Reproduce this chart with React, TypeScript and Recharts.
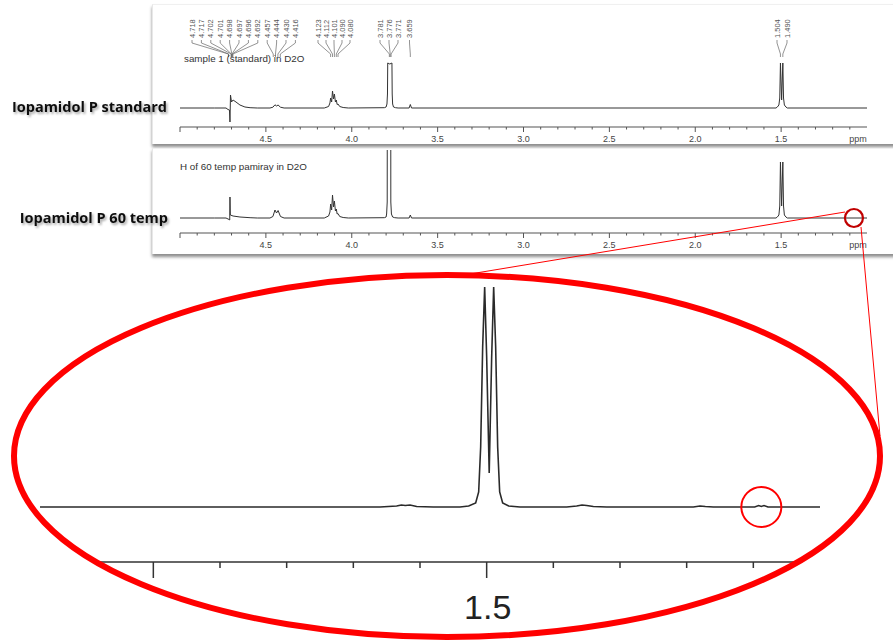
import { Line, LineChart, ReferenceDot, ReferenceLine, XAxis, YAxis } from 'recharts';

const FONT = '"Liberation Sans", Arial, Helvetica, sans-serif';
const LABEL_FONT = '"Open Sans", "Noto Sans", "DejaVu Sans", sans-serif';

// [ppm, height above baseline]
const STANDARD_SPECTRUM: [number, number][] = [
  [5.0, 0], [4.8, 0], [4.732, 0], [4.7205, -1.5], [4.712, -2], [4.709, -14], [4.706, 13], [4.7, 6],
  [4.691, 8], [4.674, 6], [4.651, 3], [4.622, 1], [4.592, 0.3], [4.55, 0],
  [4.476, 0], [4.459, 0.8], [4.447, 3.2], [4.438, 2], [4.429, 3], [4.415, 0.8], [4.394, 0],
  [4.16, 0], [4.135, 1.5], [4.127, 5], [4.123, 10], [4.117, 6], [4.112, 17], [4.106, 9], [4.101, 14],
  [4.095, 6], [4.09, 8], [4.085, 3.5], [4.08, 4], [4.07, 1.5], [4.05, 0.5], [4.02, 0],
  [3.81, 0.3], [3.8, 1], [3.795, 4], [3.792, 14], [3.7905, 45], [3.7785, 44], [3.766, 45], [3.7645, 14],
  [3.762, 4], [3.757, 1], [3.745, 0.3], [3.73, 0],
  [3.666, 0], [3.659, 3.5], [3.652, 0],
  [1.53, 0], [1.522, 1], [1.513, 3], [1.508, 10], [1.504, 45], [1.497, 8], [1.49, 45], [1.486, 10],
  [1.481, 3], [1.472, 1], [1.464, 0], [1.0, 0],
];

const TEMP60_SPECTRUM: [number, number][] = [
  [5.0, 0], [4.8, 0], [4.732, 0], [4.714, -1.5], [4.7105, -2], [4.709, 21], [4.707, 3], [4.691, 2],
  [4.651, 1], [4.592, 0.3], [4.55, 0],
  [4.476, 0], [4.459, 1.5], [4.447, 8], [4.438, 5], [4.429, 7.5], [4.415, 1.5], [4.394, 0],
  [4.16, 0], [4.135, 2], [4.127, 6], [4.123, 14], [4.117, 8], [4.112, 23], [4.106, 11], [4.101, 17],
  [4.095, 7], [4.09, 9], [4.085, 4], [4.08, 4.5], [4.07, 1.5], [4.05, 0.5], [4.02, 0],
  [3.81, 0.3], [3.8, 1], [3.797, 4], [3.7935, 16], [3.793, 150], [3.773, 150], [3.7725, 16], [3.769, 4],
  [3.762, 1], [3.75, 0.3], [3.73, 0],
  [3.666, 0], [3.659, 3], [3.652, 0],
  [1.53, 0], [1.522, 1], [1.513, 3], [1.508, 12], [1.504, 56], [1.497, 12], [1.49, 56], [1.486, 12],
  [1.481, 3], [1.472, 1], [1.464, 0], [1.0, 0],
];

const ZOOM_SPECTRUM: [number, number][] = [
  [2.17, 0], [2.05, 0], [1.95, 0], [1.8, 0], [1.66, 0], [1.635, 1], [1.628, 2], [1.622, 1.5], [1.615, 2],
  [1.605, 0.5], [1.58, 0], [1.54, 0], [1.527, 1], [1.5165, 4], [1.512, 15], [1.509, 60], [1.506, 160],
  [1.503, 220], [1.5, 150], [1.4962, 34], [1.4925, 150], [1.4895, 220], [1.4865, 160], [1.4835, 60],
  [1.4805, 15], [1.476, 4], [1.467, 1], [1.45, 0], [1.38, 0], [1.365, 1], [1.357, 2], [1.35, 1.5],
  [1.34, 0.5], [1.32, 0], [1.19, 0], [1.18, 1], [1.172, 0.5], [1.16, 0], [1.098, 0], [1.092, 1.5],
  [1.088, 0.5], [1.084, 1.5], [1.078, 0], [1.0, 0],
];

// peak picking labels
const LABELS_A = ['4.718', '4.717', '4.702', '4.701', '4.698', '4.697', '4.696', '4.692', '4.457', '4.444', '4.430', '4.416'];
const LABELS_B = ['4.123', '4.112', '4.101', '4.090', '4.080'];
const LABELS_C = ['3.781', '3.776', '3.771'];
const LABELS_D = ['3.659'];
const LABELS_E = ['1.504', '1.490'];

const PANEL_TICKS = Array.from({ length: 41 }, (_, i) => (10 + i) / 10);
const ZOOM_TICKS = Array.from({ length: 12 }, (_, i) => (10 + i) / 10);

const toRows = (pts: [number, number][]) => pts.map(([ppm, h]) => ({ ppm, h }));

// panel geometry
const P_LEFT = 150;
const P_WIDTH = 743;
const P_MARGIN_L = 30;
const P_MARGIN_R = 26;
const PLOT_X0 = P_LEFT + P_MARGIN_L;
const PX_PER_PPM = (P_WIDTH - P_MARGIN_L - P_MARGIN_R) / 4;
const pxToPpm = (px: number) => 5 - (px - PLOT_X0) / PX_PER_PPM;
const BASE1 = 108;
const v1 = (py: number) => BASE1 - py;

const LABEL_GROUPS = [
  { labels: LABELS_A, start: 192, step: 9.4 },
  { labels: LABELS_B, start: 318, step: 8 },
  { labels: LABELS_C, start: 380, step: 9 },
  { labels: LABELS_D, start: 409.5, step: 0 },
  { labels: LABELS_E, start: 777, step: 10 },
];

const PanelTick = (props: any) => {
  const { x, y, payload } = props;
  const t = Math.round(payload.value * 10);
  const major = t % 5 === 0;
  let label = '';
  if (t === 10) label = 'ppm';
  else if (major && t < 50) label = (t / 10).toFixed(1);
  return (
    <g>
      {t !== 10 && <line x1={x} y1={y} x2={x} y2={y + (major ? 5 : 2.5)} stroke="#555" strokeWidth={1} />}
      {label && (
        <text x={t === 10 ? x - 9 : x} y={y + 14.5} textAnchor="middle" fontSize={9} fill="#444" fontFamily={FONT}>
          {label}
        </text>
      )}
    </g>
  );
};

const ZoomTick = (props: any) => {
  const { x, y, payload } = props;
  const t = Math.round(payload.value * 10);
  const major = t % 5 === 0;
  return (
    <g>
      <line x1={x} y1={y} x2={x} y2={y + (major ? 16 : 6)} stroke="#333" strokeWidth={1.5} />
      {major && (
        <text x={x + 1} y={y + 57} textAnchor="middle" fontSize={34} fill="#222" fontFamily={FONT}>
          {(t / 10).toFixed(1)}
        </text>
      )}
    </g>
  );
};

const peakLabels = LABEL_GROUPS.flatMap((g, gi) =>
  g.labels.flatMap((lab, i) => {
    const peak = parseFloat(lab);
    const lx = pxToPpm(g.start + i * g.step);
    const k = `${gi}-${i}`;
    const st = { stroke: '#666', strokeWidth: 0.7, ifOverflow: 'visible' as const };
    return [
      <ReferenceLine key={`s1-${k}`} segment={[{ x: lx, y: v1(40) }, { x: lx, y: v1(43) }]} {...st} />,
      <ReferenceLine key={`s2-${k}`} segment={[{ x: lx, y: v1(43) }, { x: peak, y: v1(54) }]} {...st} />,
      <ReferenceLine key={`s3-${k}`} segment={[{ x: peak, y: v1(54) }, { x: peak, y: v1(57) }]} {...st} />,
      <ReferenceDot
        key={`t-${k}`}
        x={lx}
        y={v1(38)}
        r={1}
        ifOverflow="visible"
        shape={(p: any) => (
          <text
            x={p.cx}
            y={p.cy}
            dy={2.6}
            transform={`rotate(-90 ${p.cx} ${p.cy})`}
            fontSize={7.5}
            fill="#555"
            fontFamily={FONT}
          >
            {lab}
          </text>
        )}
      />,
    ];
  })
);

const panelBox = (top: number, height: number) => ({
  position: 'absolute' as const,
  left: 152,
  top,
  width: 760,
  height,
  background: '#fff',
  borderLeft: '1px solid #e8e8e8',
  borderTop: '1px solid #f0f0f0',
  boxShadow: '0 3px 3px rgba(0,0,0,0.45)',
});

export default function App() {
  return (
    <div style={{ position: 'absolute', left: 0, top: 0, width: 893, height: 644, overflow: 'hidden', background: '#fff' }}>
      <div style={panelBox(4, 139)} />
      <div style={panelBox(148, 105)} />

      {/* standard */}
      <div style={{ position: 'absolute', left: P_LEFT, top: 0 }}>
        <LineChart
          width={P_WIDTH}
          height={150}
          data={toRows(STANDARD_SPECTRUM)}
          margin={{ top: 5, right: P_MARGIN_R, bottom: 3, left: P_MARGIN_L }}
        >
          <XAxis
            dataKey="ppm"
            type="number"
            domain={[1, 5]}
            reversed
            ticks={PANEL_TICKS}
            interval={0}
            height={20}
            tickSize={0}
            tickMargin={0}
            tickLine={false}
            axisLine={{ stroke: '#555', strokeWidth: 1.2 }}
            tick={(p: any) => <PanelTick {...p} />}
          />
          <YAxis hide domain={[-19, 103]} />
          <Line dataKey="h" type="linear" stroke="#333" strokeWidth={1} dot={false} isAnimationActive={false} />
          {peakLabels}
        </LineChart>
      </div>

      {/* 60 temp */}
      <div style={{ position: 'absolute', left: P_LEFT, top: 145 }}>
        <LineChart
          width={P_WIDTH}
          height={115}
          data={toRows(TEMP60_SPECTRUM)}
          margin={{ top: 5, right: P_MARGIN_R, bottom: 7, left: P_MARGIN_L }}
        >
          <XAxis
            dataKey="ppm"
            type="number"
            domain={[1, 5]}
            reversed
            ticks={PANEL_TICKS}
            interval={0}
            height={20}
            tickSize={0}
            tickMargin={0}
            tickLine={false}
            axisLine={{ stroke: '#555', strokeWidth: 1.2 }}
            tick={(p: any) => <PanelTick {...p} />}
          />
          <YAxis hide domain={[-15, 68]} allowDataOverflow />
          <Line dataKey="h" type="linear" stroke="#333" strokeWidth={1} dot={false} isAnimationActive={false} />
          <ReferenceDot x={1.076} y={0} r={9} fill="none" stroke="#c00000" strokeWidth={2.2} ifOverflow="visible" />
        </LineChart>
      </div>

      {/* magnified 1.5 ppm doublet */}
      <div
        style={{
          position: 'absolute',
          left: 0,
          top: 0,
          width: 893,
          height: 644,
          clipPath: 'ellipse(433px 181px at 447px 456px)',
        }}
      >
        <LineChart width={893} height={644} data={toRows(ZOOM_SPECTRUM)} margin={{ top: 280, right: 73, bottom: 22, left: 40 }}>
          <XAxis
            dataKey="ppm"
            type="number"
            domain={[1, 2.17]}
            reversed
            ticks={ZOOM_TICKS}
            interval={0}
            height={60}
            tickSize={0}
            tickMargin={0}
            tickLine={false}
            axisLine={{ stroke: '#333', strokeWidth: 1.5 }}
            tick={(p: any) => <ZoomTick {...p} />}
          />
          <YAxis hide domain={[-55, 227]} />
          <Line dataKey="h" type="linear" stroke="#2a2a2a" strokeWidth={1.6} dot={false} isAnimationActive={false} />
          <ReferenceDot x={1.088} y={0} r={20} fill="none" stroke="#ff0000" strokeWidth={2} ifOverflow="visible" />
        </LineChart>
      </div>

      <svg width={893} height={644} style={{ position: 'absolute', left: 0, top: 0, pointerEvents: 'none' }}>
        <defs>
          <filter id="txtShadow" x="-10%" y="-40%" width="125%" height="200%">
            <feDropShadow dx="1.5" dy="2" stdDeviation="1.3" floodColor="#000" floodOpacity="0.35" />
          </filter>
        </defs>
        <text x={184} y={62} fontSize={9.8} fill="#333" fontFamily={FONT}>
          sample 1 (standard) in D2O
        </text>
        <text x={180} y={170} fontSize={9.8} fill="#333" fontFamily={FONT}>
          H of 60 temp pamiray in D2O
        </text>
        <g filter="url(#txtShadow)">
          <text x={167} y={112} textAnchor="end" style={{ fontFamily: LABEL_FONT, fontWeight: 700, fontSize: 14.5, fill: '#111' }}>
            Iopamidol P standard
          </text>
          <text x={168} y={223} textAnchor="end" style={{ fontFamily: LABEL_FONT, fontWeight: 700, fontSize: 14.5, fill: '#111' }}>
            Iopamidol P 60 temp
          </text>
        </g>
        <line x1={845} y1={212} x2={470} y2={274} stroke="#ff0000" strokeWidth={1} />
        <line x1={861} y1={227} x2={880} y2={436} stroke="#ff0000" strokeWidth={1} />
        <ellipse cx={447} cy={456} rx={433} ry={181} fill="none" stroke="#ff0000" strokeWidth={6} />
      </svg>
    </div>
  );
}
